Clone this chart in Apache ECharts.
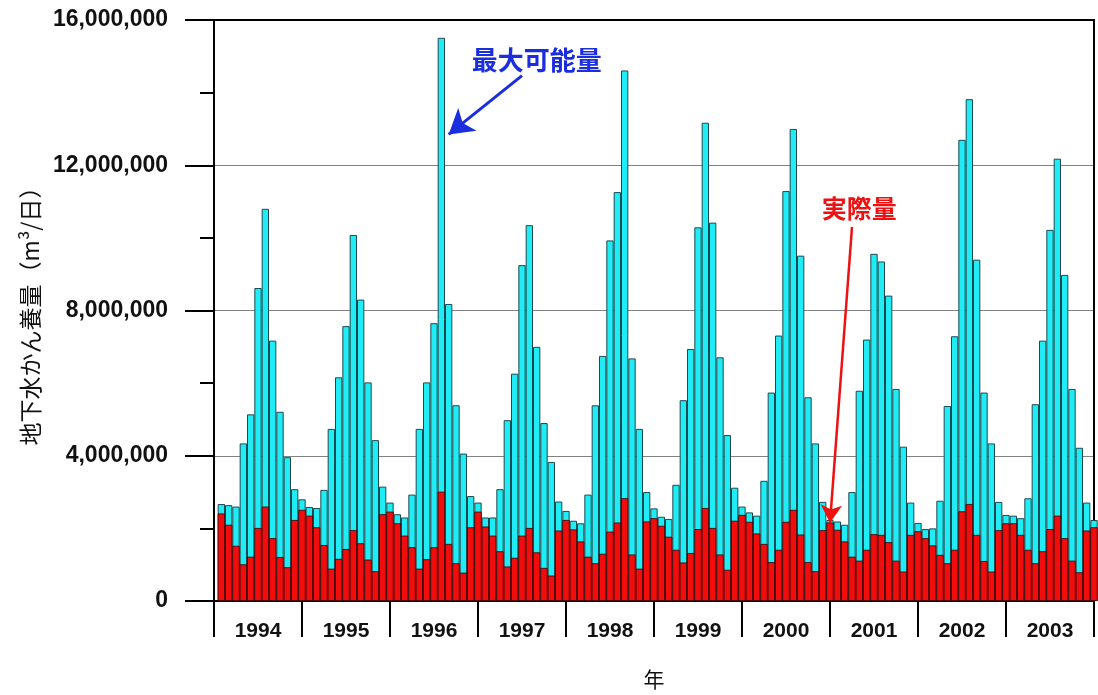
<!DOCTYPE html>
<html>
<head>
<meta charset="utf-8">
<script src="https://cdn.jsdelivr.net/npm/echarts@6/dist/echarts.min.js"></script>
<style>
html,body{margin:0;padding:0;background:#fff;}
#chart{width:1098px;height:695px;}
</style>
</head>
<body>
<div id="chart"></div>
<script>
const years = ['1994','1995','1996','1997','1998','1999','2000','2001','2002','2003'];
const months = ['1','2','3','4','5','6','7','8','9','10','11','12'];
// 最大可能量 (m3/日), monthly 1994-2003
const maxPossible = [
  2670000, 2640000, 2600000, 4340000, 5140000, 8620000, 10800000, 7170000, 5210000, 3960000, 3080000, 2800000,
  2590000, 2560000, 3060000, 4740000, 6160000, 7570000, 10080000, 8300000, 6020000, 4430000, 3150000, 2710000,
  2390000, 2300000, 2930000, 4740000, 6020000, 7650000, 15510000, 8180000, 5390000, 4060000, 2890000, 2710000,
  2300000, 2300000, 3080000, 4980000, 6260000, 9250000, 10350000, 7000000, 4900000, 3830000, 2740000, 2480000,
  2210000, 2140000, 2930000, 5390000, 6750000, 9930000, 11260000, 14610000, 6680000, 4740000, 3000000, 2550000,
  2320000, 2260000, 3200000, 5530000, 6940000, 10290000, 13170000, 10420000, 6710000, 4570000, 3120000, 2600000,
  2440000, 2350000, 3310000, 5740000, 7310000, 11290000, 13000000, 9510000, 5610000, 4340000, 2730000, 2230000,
  2190000, 2100000, 3000000, 5790000, 7200000, 9560000, 9350000, 8410000, 5840000, 4250000, 2710000, 2150000,
  1980000, 2000000, 2760000, 5370000, 7290000, 12700000, 13820000, 9400000, 5740000, 4340000, 2730000, 2370000,
  2350000, 2280000, 2830000, 5420000, 7170000, 10220000, 12180000, 8980000, 5840000, 4220000, 2710000, 2230000
];
// 実際量 (m3/日)
const actual = [
  2410000, 2100000, 1520000, 1010000, 1220000, 2010000, 2600000, 1730000, 1210000, 930000, 2230000, 2510000,
  2350000, 2030000, 1540000, 890000, 1160000, 1430000, 1950000, 1590000, 1140000, 820000, 2390000, 2460000,
  2140000, 1800000, 1480000, 890000, 1150000, 1480000, 3010000, 1570000, 1040000, 780000, 2030000, 2460000,
  2050000, 1800000, 1370000, 950000, 1190000, 1800000, 2010000, 1340000, 910000, 700000, 1940000, 2230000,
  1970000, 1640000, 1220000, 1040000, 1300000, 1910000, 2160000, 2830000, 1280000, 890000, 2190000, 2280000,
  2070000, 1770000, 1410000, 1060000, 1320000, 1980000, 2560000, 2010000, 1280000, 860000, 2210000, 2370000,
  2180000, 1860000, 1570000, 1070000, 1410000, 2180000, 2510000, 1830000, 1070000, 820000, 1950000, 2160000,
  1960000, 1640000, 1220000, 1110000, 1410000, 1840000, 1820000, 1620000, 1110000, 810000, 1820000, 1920000,
  1730000, 1530000, 1270000, 1040000, 1410000, 2470000, 2670000, 1820000, 1100000, 810000, 1950000, 2140000,
  2140000, 1820000, 1410000, 1040000, 1370000, 1980000, 2350000, 1730000, 1110000, 790000, 1940000, 2030000
];
const yTicks = [0, 4000000, 8000000, 12000000, 16000000];

// leading empty slot: bars sit at month-end positions, half a bar right of year ticks
const monthCats = [''].concat(years.flatMap(y => months.map(m => y + '-' + m)));
const maxData = [null].concat(maxPossible);
const actData = [null].concat(actual);

const chart = echarts.init(document.getElementById('chart'), null, {renderer: 'canvas'});
const FONT = '"Liberation Sans", Arial, sans-serif';
const CJK = '"Noto Sans CJK JP", "Noto Sans", sans-serif';

chart.setOption({
  backgroundColor: '#ffffff',
  animation: false,
  grid: {left: 214, top: 20, width: 880, height: 584, containLabel: false},
  xAxis: [
    {
      type: 'category', data: monthCats, boundaryGap: false, show: false, gridIndex: 0
    },
    {
      type: 'category', data: years, boundaryGap: true, position: 'bottom', gridIndex: 0,
      axisLine: {show: true, lineStyle: {color: '#000', width: 2}},
      axisTick: {show: true, length: 36, interval: 0, lineStyle: {color: '#000', width: 2}},
      axisLabel: {show: true, interval: 0, margin: 20, color: '#111', fontSize: 21, fontWeight: 'bold', fontFamily: FONT},
      splitLine: {show: false},
      name: '年', nameLocation: 'middle', nameGap: 68,
      nameTextStyle: {fontSize: 21, color: '#111', fontFamily: CJK}
    },
    {
      type: 'category', data: years, position: 'top', gridIndex: 0,
      axisLine: {show: true, lineStyle: {color: '#000', width: 2}},
      axisTick: {show: false}, axisLabel: {show: false}, splitLine: {show: false}
    }
  ],
  yAxis: [
    {
      type: 'value', min: 0, max: 16000000, interval: 4000000, position: 'left',
      axisLine: {show: true, lineStyle: {color: '#000', width: 2}},
      axisTick: {show: true, inside: false, length: 29, lineStyle: {color: '#000', width: 2}},
      minorTick: {show: true, splitNumber: 2, length: 14, lineStyle: {color: '#000', width: 2}},
      axisLabel: {
        margin: 46, color: '#111', fontSize: 23, fontWeight: 'bold', fontFamily: FONT,
        formatter: v => yTicks.indexOf(v) >= 0 ? v.toLocaleString('en-US') : ''
      },
      splitLine: {show: true, lineStyle: {color: '#808080', width: 1}},
      name: '地下水かん養量（m³/日）', nameLocation: 'middle', nameGap: 170, nameRotate: 90,
      nameTextStyle: {fontSize: 23, color: '#111', fontFamily: CJK}
    },
    {
      type: 'value', min: 0, max: 16000000, interval: 4000000, position: 'right',
      axisLine: {show: true, lineStyle: {color: '#000', width: 2}},
      axisTick: {show: false}, axisLabel: {show: false}, splitLine: {show: false}
    }
  ],
  series: [
    {
      name: '最大可能量', type: 'bar', xAxisIndex: 0, yAxisIndex: 0, data: maxData,
      barWidth: '100%', barGap: '-100%', barCategoryGap: '0%', clip: false,
      itemStyle: {color: '#20ecf5', borderColor: '#1c4a50', borderWidth: 1},
      z: 2,
      markLine: {
        silent: true, symbol: ['none', 'arrow'], symbolSize: [22, 24],
        label: {show: false},
        lineStyle: {color: '#1a2ee0', width: 3, type: 'solid'},
        data: [[{coord: [42, 14470000]}, {coord: [32, 12850000]}]]
      },
      markPoint: {
        silent: true, symbol: 'rect', symbolSize: 0,
        label: {show: true, formatter: '最大可能量', color: '#1a2ee0', fontSize: 26, fontWeight: 'bold', fontFamily: CJK},
        data: [{coord: [44, 14900000]}]
      }
    },
    {
      name: '実際量', type: 'bar', xAxisIndex: 0, yAxisIndex: 0, data: actData,
      barWidth: '100%', barGap: '-100%', barCategoryGap: '0%', clip: false,
      itemStyle: {color: '#f20d0d', borderColor: '#3a0000', borderWidth: 0.8},
      z: 3,
      markLine: {
        silent: true, symbol: ['none', 'arrow'], symbolSize: [16, 18],
        label: {show: false},
        lineStyle: {color: '#ee1111', width: 2.5, type: 'solid'},
        data: [[{coord: [87, 10300000]}, {coord: [84, 2150000]}]]
      },
      markPoint: {
        silent: true, symbol: 'rect', symbolSize: 0,
        label: {show: true, formatter: '実際量', color: '#ee1111', fontSize: 25, fontWeight: 'bold', fontFamily: CJK},
        data: [{coord: [88, 10800000]}]
      }
    }
  ]
});
</script>
</body>
</html>
